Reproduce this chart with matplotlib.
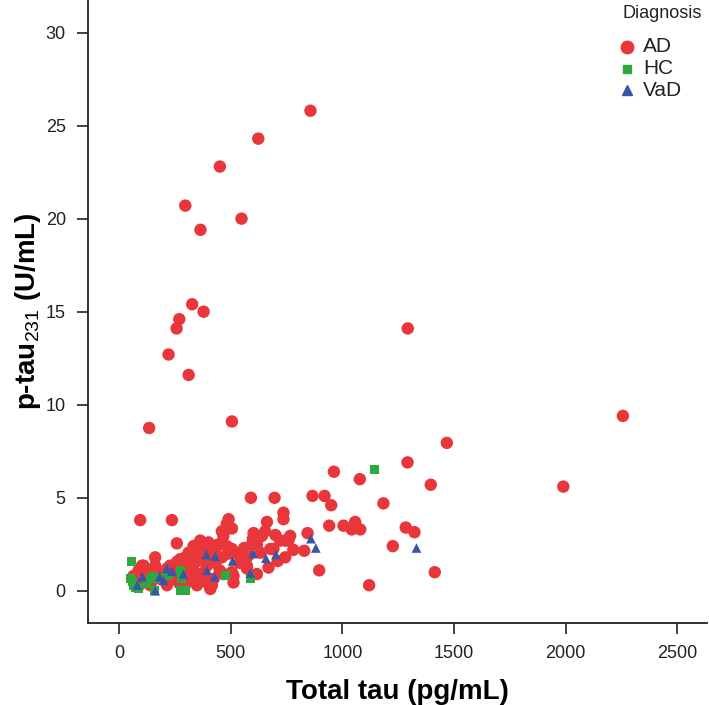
import matplotlib
matplotlib.use("Agg")
import matplotlib.pyplot as plt
from matplotlib.lines import Line2D

plt.rcParams['font.family'] = ['Liberation Sans', 'DejaVu Sans']
plt.rcParams['mathtext.fontset'] = 'custom'
plt.rcParams['mathtext.rm'] = 'Liberation Sans'
plt.rcParams['mathtext.bf'] = 'Liberation Sans:bold'

# ---- data (Total tau pg/mL, p-tau231 U/mL) ----
ad_x = [857, 623, 451, 296, 548, 364, 327, 378, 269, 257, 221, 311, 134, 505, 1293, 2257, 1468, 1292, 1396, 1990, 962, 1078,
        866, 920, 950, 1184, 590, 696, 941, 1005, 1057, 1042, 1080, 1284, 1323, 844, 829, 1226, 896, 1414, 1120,
        94, 236, 662, 736, 736, 490, 505, 258, 766, 744, 691, 744, 669, 617, 572, 579, 599, 617, 639, 654, 632,
        467, 482, 505, 438, 393, 348, 363, 408, 318, 296, 258, 228, 161, 161, 102, 64, 184, 243, 288, 333, 363,
        408, 423, 505, 512, 303, 348, 214, 139, 393, 363, 333, 311, 273, 258, 214, 125, 87, 109,
        602, 594, 677, 721, 758, 572, 565, 512, 467, 400, 445, 490, 460, 482, 393, 415, 348, 318,
        200, 250, 280, 330, 380, 430, 450, 270, 230, 180, 150, 120, 90, 380, 420, 300, 350, 460, 540, 530, 560,
        700, 710, 780]
ad_y = [25.8, 24.3, 22.8, 20.7, 20.0, 19.4, 15.4, 15.0, 14.6, 14.1, 12.7, 11.6, 8.75, 9.1, 14.1, 9.4, 7.95, 6.9, 5.7, 5.6, 6.4, 6.0,
        5.1, 5.1, 4.6, 4.7, 5.0, 5.0, 3.5, 3.5, 3.7, 3.3, 3.3, 3.4, 3.15, 3.1, 2.15, 2.4, 1.1, 1.0, 0.3,
        3.8, 3.8, 3.7, 4.2, 3.85, 3.85, 3.35, 2.55, 2.95, 2.7, 2.25, 1.8, 1.25, 0.9, 1.35, 1.9, 2.8, 2.5, 2.95, 3.2, 2.05,
        2.95, 2.4, 2.25, 2.4, 2.5, 2.25, 2.0, 2.15, 1.7, 1.8, 1.55, 1.35, 1.8, 1.35, 1.35, 0.8, 0.65, 0.75, 0.65, 0.8, 0.65,
        0.1, 0.65, 1.0, 0.8, 0.45, 0.3, 0.3, 0.3, 0.45, 2.7, 2.4, 2.05, 1.7, 1.1, 1.2, 1.0, 1.1, 1.35,
        3.1, 2.5, 2.25, 2.7, 2.7, 1.2, 1.7, 0.45, 0.9, 2.6, 2.5, 2.0, 3.2, 3.6, 1.35, 0.3, 0.8, 1.35,
        0.9, 1.3, 1.0, 1.2, 1.0, 1.5, 1.1, 0.4, 0.6, 1.0, 0.6, 0.5, 0.3, 1.8, 1.9, 1.3, 1.6, 1.8, 1.5, 2.0, 2.3,
        3.0, 1.6, 2.2]

hc_x = [57, 49, 64, 87, 147, 176, 214, 273, 281, 273, 296, 475, 587, 157, 1144, 60, 75, 120, 139, 221]
hc_y = [1.6, 0.65, 0.3, 0.1, 0.75, 0.65, 0.8, 1.1, 0.65, 0.0, 0.0, 0.8, 0.65, 0.0, 6.5, 0.5, 0.2, 0.4, 0.65, 0.8]

vad_x = [102, 161, 181, 214, 236, 288, 390, 430, 393, 427, 508, 587, 600, 657, 702, 859, 881, 1332, 80, 199]
vad_y = [0.75, 0.0, 0.75, 1.2, 1.05, 0.9, 1.95, 1.85, 1.1, 0.75, 1.6, 0.95, 2.0, 1.75, 1.95, 2.8, 2.3, 2.3, 0.3, 0.55]

groups = ["AD", "HC", "VaD"]
colors = {"AD": "#E8363B", "HC": "#2DAA3F", "VaD": "#3A55A8"}
markers = {"AD": "o", "HC": "s", "VaD": "^"}
sizes = {"AD": 80, "HC": 42, "VaD": 48}
leg_sizes = {"AD": 9, "HC": 6, "VaD": 6.5}

xticks = [0, 500, 1000, 1500, 2000, 2500]
yticks = [0, 5, 10, 15, 20, 25, 30]

W, H = 709, 705
fig = plt.figure(figsize=(W / 100, H / 100), dpi=100)
ax = fig.add_axes([88 / W, 1 - 623 / H, (707 - 88) / W, 623 / H])

data = {"AD": (ad_x, ad_y), "HC": (hc_x, hc_y), "VaD": (vad_x, vad_y)}
for g in groups:
    xs, ys = data[g]
    ax.scatter(xs, ys, s=sizes[g], marker=markers[g], c=colors[g], edgecolors='none', zorder=3)

ax.set_xlim(-140, 2634)
ax.set_ylim(-1.73, 31.75)
ax.set_xticks(xticks)
ax.set_yticks(yticks)
ax.tick_params(axis='both', direction='out', length=8, width=1.2, labelsize=13, colors='#222222', pad=8)
for side in ['top', 'right']:
    ax.spines[side].set_visible(False)
for side in ['left', 'bottom']:
    ax.spines[side].set_linewidth(1.3)
    ax.spines[side].set_color('#222222')

ax.set_xlabel("Total tau (pg/mL)", fontsize=20, fontweight='bold', labelpad=12)
ax.set_ylabel(r"p-tau$_{\mathrm{231}}$ (U/mL)", fontsize=20, fontweight='bold', labelpad=2)

# legend (placed in figure pixel coordinates)
fig.text(623 / W, 1 - 13 / H, "Diagnosis", fontsize=13, ha='left', va='center', color='#222222')
for g, ypx in zip(groups, [47, 69, 90]):
    fig.add_artist(Line2D([627 / W], [1 - ypx / H], transform=fig.transFigure, linestyle='none',
                          marker=markers[g], color=colors[g], markersize=leg_sizes[g]))
    fig.text(643 / W, 1 - ypx / H, g, fontsize=15, ha='left', va='center', color='#222222')

fig.savefig("out.png", dpi=100)
